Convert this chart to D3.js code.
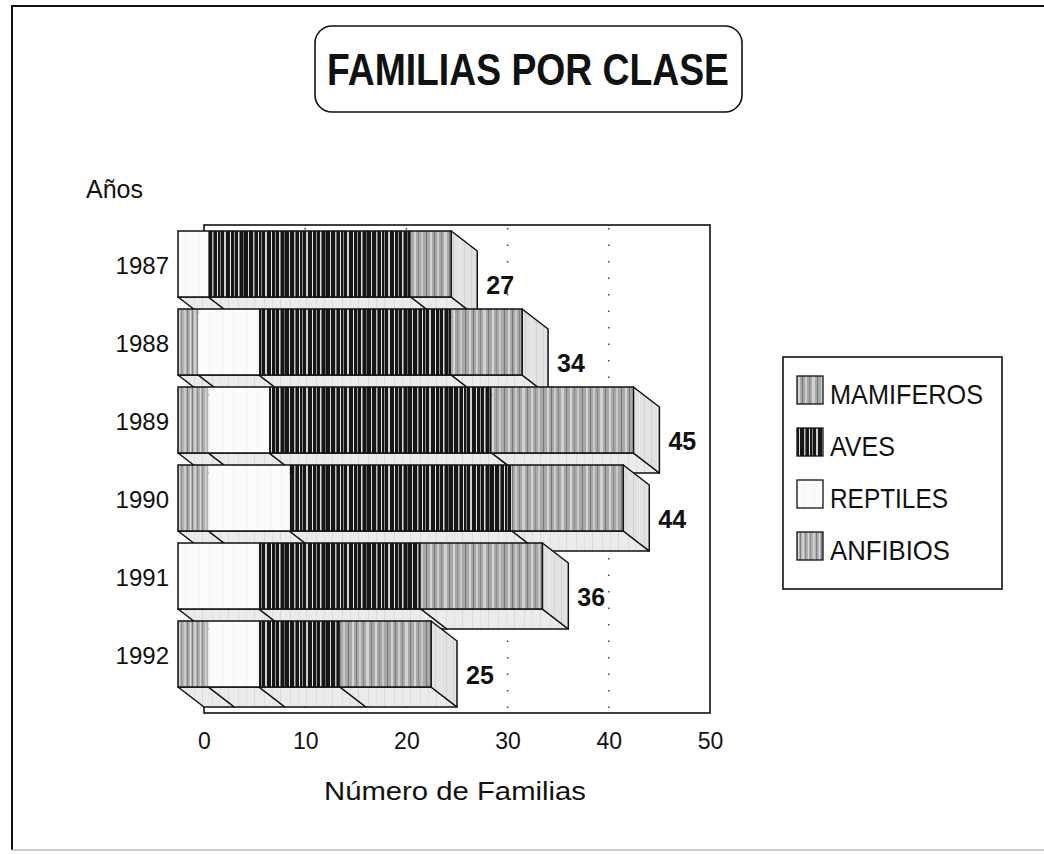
<!DOCTYPE html>
<html>
<head>
<meta charset="utf-8">
<script src="https://cdn.jsdelivr.net/npm/d3@7/dist/d3.min.js"></script>
<style>
  body { margin: 0; background: #fff; }
  svg { display: block; font-family: 'Liberation Sans', Arial, Helvetica, sans-serif; }
</style>
</head>
<body>
<div id="chart"></div>
<script>
// data
const years = ['1987', '1988', '1989', '1990', '1991', '1992'];
const anfibios = [0, 2, 3, 3, 0, 3];
const reptiles = [3, 6, 6, 8, 8, 5];
const aves = [20, 19, 22, 22, 16, 8];
const mamiferos = [4, 7, 14, 11, 12, 9];
const xTicks = [0, 10, 20, 30, 40, 50];

const keys = ['anfibios', 'reptiles', 'aves', 'mamiferos'];
const legendKeys = ['mamiferos', 'aves', 'reptiles', 'anfibios'];
const legendNames = { mamiferos: 'MAMIFEROS', aves: 'AVES', reptiles: 'REPTILES', anfibios: 'ANFIBIOS' };

const width = 1044;
const height = 854;
const depth = { x: 26, y: 20 }; // 3d offset of the bars

const table = years.map((year, i) => ({
  year,
  anfibios: anfibios[i],
  reptiles: reptiles[i],
  aves: aves[i],
  mamiferos: mamiferos[i]
}));
const series = d3.stack().keys(keys)(table);
const totals = table.map(d => keys.reduce((s, k) => s + d[k], 0));

const svg = d3.select('#chart')
  .append('svg')
  .attr('width', width)
  .attr('height', height);

const defs = svg.append('defs');

// vertical stripe fills, like the old printer hatching
function stripes(id, base, lines, w) {
  const p = defs.append('pattern')
    .attr('id', id)
    .attr('patternUnits', 'userSpaceOnUse')
    .attr('width', w)
    .attr('height', 8);
  p.append('rect').attr('width', w).attr('height', 8).attr('fill', base);
  lines.forEach(([x, lw, c]) => {
    p.append('rect').attr('x', x).attr('width', lw).attr('height', 8).attr('fill', c);
  });
}

stripes('p-aves', '#161616', [
  [2, 1, '#d8d8d8'], [7, 1.5, '#bdbdbd'], [12, 1, '#e6e6e6'], [15, 1, '#8a8a8a'],
  [19, 2, '#d0d0d0'], [25, 1, '#e6e6e6'], [29, 1, '#9a9a9a'], [33, 1.5, '#dcdcdc'], [38, 1, '#6a6a6a']
], 41);
stripes('p-mamiferos', '#a8a8a8', [
  [1, 2, '#d4d4d4'], [5, 1, '#747474'], [8, 2, '#cccccc'], [12, 1, '#868686'], [15, 3, '#d2d2d2'],
  [20, 1, '#7a7a7a'], [24, 2, '#d6d6d6'], [28, 1, '#8e8e8e'], [31, 2, '#c8c8c8'], [36, 1, '#767676']
], 39);
stripes('p-anfibios', '#b0b0b0', [
  [1, 1, '#dcdcdc'], [3, 1, '#808080'], [5, 2, '#d0d0d0'], [8, 1, '#8c8c8c'], [11, 1, '#d8d8d8'],
  [13, 1, '#909090'], [16, 2, '#cccccc'], [19, 1, '#7c7c7c']
], 21);
stripes('p-reptiles', '#fbfbfb', [[6, 1, '#f0f0f0'], [17, 1, '#f2f2f2']], 24);
stripes('p-side', '#e2e2e2', [[3, 1, '#d0d0d0'], [9, 1, '#ececec'], [14, 1, '#d4d4d4']], 18);
stripes('p-bottom', '#ebebeb', [[4, 1, '#dcdcdc'], [12, 1, '#e0e0e0'], [20, 1, '#d8d8d8']], 26);

const fillOf = k => `url(#p-${k})`;

// front face scale and back wall scale
const x = d3.scaleLinear().domain([0, 50]).range([178, 684]);
const xBack = d3.scaleLinear().domain([0, 50]).range([178 + depth.x, 684 + depth.x]);
const y = d3.scaleBand().domain(years).range([231, 687]).paddingInner(12 / 78);

// outer frame
svg.append('path')
  .attr('d', `M12,850 L12,6 L1044,6`)
  .attr('fill', 'none')
  .attr('stroke', '#111')
  .attr('stroke-width', 2);
svg.append('line')
  .attr('x1', 12).attr('x2', 1044).attr('y1', 850).attr('y2', 850)
  .attr('stroke', '#bbb').attr('stroke-width', 1.5);

// title
svg.append('rect')
  .attr('x', 315).attr('y', 26)
  .attr('width', 427).attr('height', 86)
  .attr('rx', 17)
  .attr('fill', 'none')
  .attr('stroke', '#111')
  .attr('stroke-width', 1.6);
svg.append('text')
  .attr('x', 528).attr('y', 85)
  .attr('text-anchor', 'middle')
  .attr('font-size', 45)
  .attr('font-weight', 'bold')
  .attr('textLength', 402)
  .attr('lengthAdjust', 'spacingAndGlyphs')
  .attr('fill', '#111')
  .text('FAMILIAS POR CLASE');

// back wall with dotted grid
svg.append('rect')
  .attr('x', xBack(0)).attr('y', 225)
  .attr('width', xBack(50) - xBack(0)).attr('height', 713 - 225)
  .attr('fill', '#fff')
  .attr('stroke', '#111')
  .attr('stroke-width', 1.6);

svg.append('g')
  .selectAll('line')
  .data(xTicks.filter(v => v > 0 && v < 50))
  .enter().append('line')
  .attr('x1', d => xBack(d)).attr('x2', d => xBack(d))
  .attr('y1', 228).attr('y2', 713)
  .attr('stroke', '#444')
  .attr('stroke-width', 1.5)
  .attr('stroke-dasharray', '1.5,15');

// bars, drawn from top to bottom so each one hides the floor of the one above
const bars = svg.append('g').attr('class', 'bars');

years.forEach((year, i) => {
  const g = bars.append('g');
  const y0 = y(year);
  const y1 = y0 + y.bandwidth();
  const segs = series.map(s => ({ key: s.key, x0: x(s[i][0]), x1: x(s[i][1]) }))
    .filter(s => s.x1 > s.x0);
  const xEnd = x(totals[i]);

  // bottom faces
  g.selectAll('path.bottom')
    .data(segs)
    .enter().append('path')
    .attr('class', 'bottom')
    .attr('d', s => `M${s.x0},${y1} L${s.x1},${y1} L${s.x1 + depth.x},${y1 + depth.y} L${s.x0 + depth.x},${y1 + depth.y} Z`)
    .attr('fill', 'url(#p-bottom)')
    .attr('stroke', '#111')
    .attr('stroke-width', 1.5)
    .attr('stroke-linejoin', 'round');

  // side face
  g.append('path')
    .attr('d', `M${xEnd},${y0} L${xEnd + depth.x},${y0 + depth.y} L${xEnd + depth.x},${y1 + depth.y} L${xEnd},${y1} Z`)
    .attr('fill', 'url(#p-side)')
    .attr('stroke', '#111')
    .attr('stroke-width', 1.5)
    .attr('stroke-linejoin', 'round');

  // front faces
  g.selectAll('rect.front')
    .data(segs)
    .enter().append('rect')
    .attr('class', 'front')
    .attr('x', s => s.x0)
    .attr('y', y0)
    .attr('width', s => s.x1 - s.x0)
    .attr('height', y.bandwidth())
    .attr('fill', s => fillOf(s.key));

  g.append('rect')
    .attr('x', x(0)).attr('y', y0)
    .attr('width', xEnd - x(0)).attr('height', y.bandwidth())
    .attr('fill', 'none')
    .attr('stroke', '#111')
    .attr('stroke-width', 1.5);

  // total label
  g.append('text')
    .attr('x', xEnd + depth.x + 9)
    .attr('y', y1 - 3)
    .attr('font-size', 25)
    .attr('font-weight', 'bold')
    .attr('fill', '#111')
    .text(totals[i]);
});

// axes
const xAxis = svg.append('g')
  .attr('transform', 'translate(0,733)')
  .call(d3.axisBottom(xBack).tickValues(xTicks).tickSize(0).tickPadding(0).tickFormat(d3.format('d')));
xAxis.select('.domain').remove();
xAxis.selectAll('text')
  .attr('font-size', 23)
  .attr('font-family', "'Liberation Sans', Arial, sans-serif")
  .attr('fill', '#111');

const yAxis = svg.append('g')
  .attr('transform', 'translate(169,2)')
  .call(d3.axisLeft(y).tickSize(0).tickPadding(0));
yAxis.select('.domain').remove();
yAxis.selectAll('text')
  .attr('font-size', 24)
  .attr('font-family', "'Liberation Sans', Arial, sans-serif")
  .attr('fill', '#111');

svg.append('text')
  .attr('x', 86).attr('y', 198)
  .attr('font-size', 25)
  .attr('fill', '#111')
  .text('Años');

svg.append('text')
  .attr('x', 455).attr('y', 800)
  .attr('text-anchor', 'middle')
  .attr('font-size', 25)
  .attr('textLength', 262)
  .attr('lengthAdjust', 'spacingAndGlyphs')
  .attr('fill', '#111')
  .text('Número de Familias');

// legend
const legend = svg.append('g').attr('class', 'legend');
legend.append('rect')
  .attr('x', 783).attr('y', 357)
  .attr('width', 219).attr('height', 232)
  .attr('fill', '#fff')
  .attr('stroke', '#111')
  .attr('stroke-width', 1.6);

const legendLen = { mamiferos: 153, aves: 65, reptiles: 118, anfibios: 120 };
const item = legend.selectAll('g.item')
  .data(legendKeys)
  .enter().append('g')
  .attr('class', 'item')
  .attr('transform', (d, i) => `translate(797,${376 + i * 52})`);

item.append('rect')
  .attr('width', 26).attr('height', 28)
  .attr('fill', d => fillOf(d))
  .attr('stroke', '#111')
  .attr('stroke-width', 1.3);

item.append('text')
  .attr('x', 33).attr('y', 28)
  .attr('font-size', 28)
  .attr('textLength', d => legendLen[d])
  .attr('lengthAdjust', 'spacingAndGlyphs')
  .attr('fill', '#111')
  .text(d => legendNames[d]);
</script>
</body>
</html>
